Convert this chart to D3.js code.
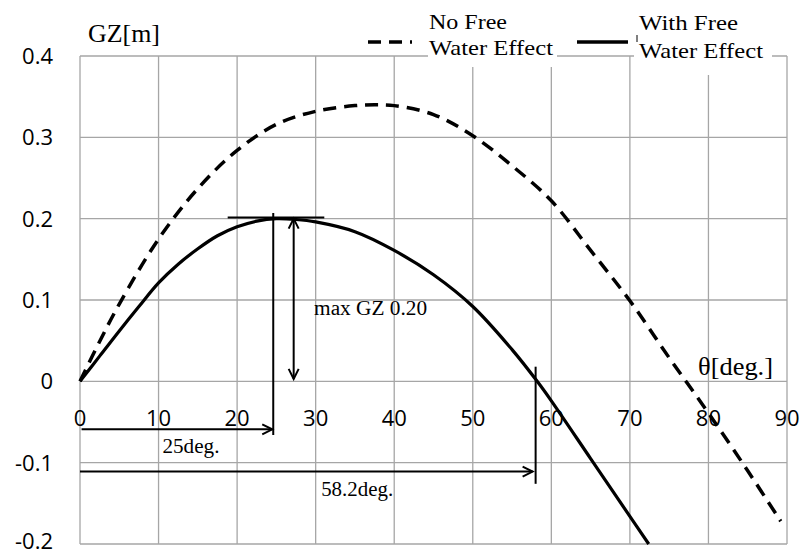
<!DOCTYPE html>
<html><head><meta charset="utf-8">
<script src="https://cdn.jsdelivr.net/npm/d3@7"></script>
<style>body{margin:0;background:#fff}svg{display:block}</style>
</head><body><svg id="c" width="801" height="553"></svg>
<script>
// ---- data ----
const xTicks = [0,10,20,30,40,50,60,70,80,90];
const yTicks = [-0.2,-0.1,0,0.1,0.2,0.3,0.4];
const yTickLabels = ["-0.2","-0.1","0","0.1","0.2","0.3","0.4"];
const thetaNo = [0,2.5,5,10,15,20,25,30,35,37.5,40,45,50,55,60,65,70,75,80,85,89.2];
const gzNo    = [0,0.049,0.095,0.175,0.237,0.284,0.316,0.332,0.339,0.340,0.339,0.328,0.302,0.265,0.222,0.161,0.099,0.029,-0.039,-0.110,-0.172];
const thetaWith = [0,2.5,5,7.5,10,12.5,15,17.5,20,22.5,25,27.5,30,35,40,45,50,55,58.2,60,65,70,72.4];
const gzWith    = [0,0.031,0.062,0.092,0.121,0.144,0.163,0.179,0.190,0.197,0.200,0.199,0.196,0.184,0.161,0.131,0.092,0.039,0,-0.024,-0.095,-0.166,-0.2];
const seriesNames = [["No Free","Water Effect"],["With Free","Water Effect"]];
// annotation values (theta, GZ)
const maxGZ = {theta:24.6, gz:0.20};
const zeroCross = 58.0;

const svg = d3.select("#c");
const x = d3.scaleLinear().domain([0,90]).range([80,787]);
const y = d3.scaleLinear().domain([-0.2,0.4]).range([544,56]);
const grid = "#a6a6a6";

// grid
svg.append("g").selectAll("line").data(xTicks).join("line")
  .attr("x1",d=>x(d)).attr("x2",d=>x(d)).attr("y1",y(0.4)).attr("y2",y(-0.2))
  .attr("stroke",grid).attr("stroke-width",1.3);
svg.append("g").selectAll("line").data(yTicks).join("line")
  .attr("x1",x(0)).attr("x2",x(90)).attr("y1",d=>y(d)).attr("y2",d=>y(d))
  .attr("stroke",grid).attr("stroke-width",1.3);

// y tick labels
svg.append("g").selectAll("text").data(yTicks).join("text")
  .attr("x",53).attr("y",d=>Math.min(y(d)+8,549)).attr("text-anchor","end")
  .attr("font-family","Open Sans").attr("font-size",22).attr("fill","#000")
  .text((d,i)=>yTickLabels[i]);
// x tick labels
svg.append("g").selectAll("text").data(xTicks).join("text")
  .attr("x",d=>x(d)).attr("y",y(0)+45).attr("text-anchor","middle")
  .attr("font-family","Open Sans").attr("font-size",22).attr("fill","#000")
  .text(d=>d);

// curves
const line = d3.line().x(d=>x(d[0])).y(d=>y(d[1])).curve(d3.curveCatmullRom.alpha(0.5));
svg.append("path").datum(thetaNo.map((t,i)=>[t,gzNo[i]]))
  .attr("d",line).attr("fill","none").attr("stroke","#000").attr("stroke-width",3.5)
  .attr("stroke-dasharray","13,8");
svg.append("path").datum(thetaWith.map((t,i)=>[t,gzWith[i]]))
  .attr("d",line).attr("fill","none").attr("stroke","#000").attr("stroke-width",3.2);

// annotations
const ann = svg.append("g").attr("stroke","#000").attr("stroke-width",2).attr("fill","none");
function seg(x1,y1,x2,y2){ann.append("line").attr("x1",x1).attr("y1",y1).attr("x2",x2).attr("y2",y2);}
function headRight(px,py){ann.append("path").attr("d",`M${px-10},${py-5}L${px},${py}L${px-10},${py+5}`);}
function headUp(px,py){ann.append("path").attr("d",`M${px-5},${py+10}L${px},${py}L${px+5},${py+10}`);}
function headDown(px,py){ann.append("path").attr("d",`M${px-5},${py-10}L${px},${py}L${px+5},${py-10}`);}
// horizontal tangent at max
seg(x(18.8),y(0.2015),x(31.1),y(0.2015));
// vertical at 25 deg
seg(x(maxGZ.theta),y(0.207),x(maxGZ.theta),y(-0.066));
// double arrow max GZ
const xa = x(27.2);
seg(xa,y(maxGZ.gz),xa,y(0.003)); headUp(xa,y(maxGZ.gz)); headDown(xa,y(0.003));
// 25deg arrow
seg(x(0.2),y(-0.059),x(maxGZ.theta)-1,y(-0.059)); headRight(x(maxGZ.theta)-1,y(-0.059));
// 58.2deg arrow
seg(x(0),y(-0.111),x(zeroCross)-3,y(-0.111)); headRight(x(zeroCross)-3,y(-0.111));
seg(x(zeroCross),y(0.018),x(zeroCross),y(-0.126));

const serif = "Liberation Serif, Times New Roman, serif";
function txt(t,px,py,size,len){
  const e = svg.append("text").attr("x",px).attr("y",py).attr("font-family",serif)
    .attr("font-size",size).attr("fill","#000").text(t);
  if(len) e.attr("textLength",len).attr("lengthAdjust","spacingAndGlyphs");
  return e;
}
txt("max GZ 0.20", x(29.8), y(0.0817), 20, 113);
txt("25deg.", x(10.5), y(-0.088), 20, 57);
txt("58.2deg.", x(30.7), y(-0.141), 20, 72);

// axis titles
txt("GZ[m]", 88, 42, 25, 72);
txt("θ[deg.]", 698, 375, 25, 75);

// legend
svg.append("rect").attr("x",428).attr("y",0).attr("width",129).attr("height",67).attr("fill","#fff");
svg.append("rect").attr("x",634).attr("y",0).attr("width",138).attr("height",75).attr("fill","#fff");
svg.append("line").attr("x1",368).attr("x2",412).attr("y1",42).attr("y2",42)
  .attr("stroke","#000").attr("stroke-width",3.5).attr("stroke-dasharray","13,8");
svg.append("line").attr("x1",577).attr("x2",628).attr("y1",42).attr("y2",42)
  .attr("stroke","#000").attr("stroke-width",3.5);
svg.append("line").attr("x1",637).attr("x2",637).attr("y1",35).attr("y2",42)
  .attr("stroke","#000").attr("stroke-width",1);
txt(seriesNames[0][0], 429, 29, 21, 78);
txt(seriesNames[0][1], 429, 55, 21, 124);
txt(seriesNames[1][0], 639, 30, 21, 99);
txt(seriesNames[1][1], 639, 58, 21, 124);
</script></body></html>
